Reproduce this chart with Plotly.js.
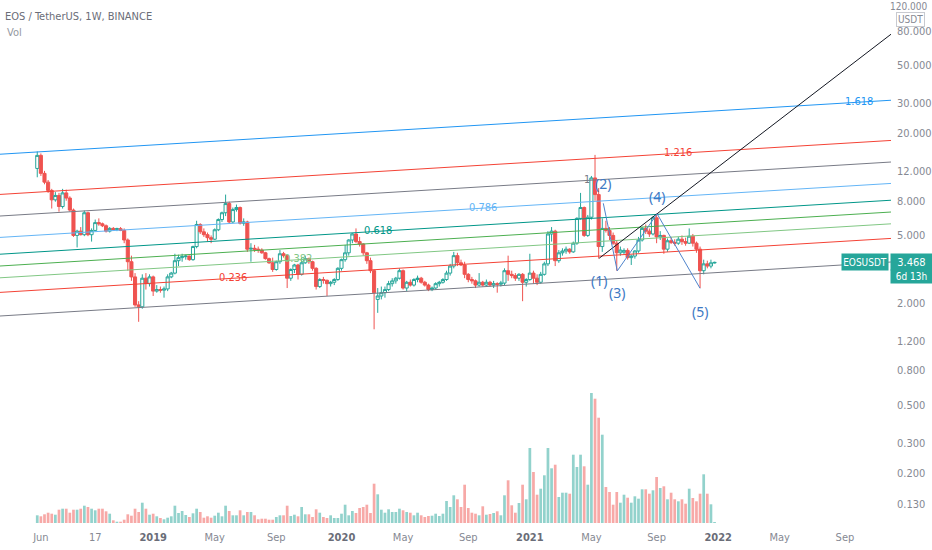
<!DOCTYPE html>
<html><head><meta charset="utf-8">
<script src="https://cdn.plot.ly/plotly-3.0.1.min.js"></script>
<style>html,body{margin:0;padding:0;background:#fff}#chart{width:932px;height:550px}</style>
</head><body><div id="chart"></div>
<script>
// ---- weekly EOS/USDT candles (first week 2018-05-28) ----
const firstWeek = '2018-05-28';
const open = [12.4,14.8,11.6,10.3,9.2,8.1,8.6,7.4,8.9,8.3,
 7.05,5.0,5.3,5.05,6.8,5.05,5.35,5.95,5.85,5.7,
 5.3,5.5,5.42,5.48,5.35,4.7,3.5,2.85,1.95,1.9,
 2.8,2.6,2.85,2.35,2.4,2.38,2.42,2.85,3.0,3.55,
 3.7,3.75,3.78,3.6,4.3,5.8,5.25,5.05,4.85,4.75,
 5.4,6.2,6.8,7.7,6.0,7.1,7.3,5.9,6.0,4.15,
 4.2,4.15,4.1,3.95,3.65,3.45,3.15,3.5,3.9,3.8,
 2.8,3.15,3.35,2.95,3.45,3.65,3.5,3.2,2.5,2.75,
 2.72,2.6,2.65,2.75,3.2,3.6,3.95,4.7,5.1,4.6,
 4.45,3.95,3.55,3.1,2.1,2.2,2.3,2.4,2.6,2.7,
 2.8,3.1,2.45,2.65,2.55,2.75,2.8,2.65,2.55,2.4,
 2.45,2.6,2.65,2.75,3.0,3.3,3.8,3.45,3.35,2.95,
 2.75,2.7,2.55,2.65,2.55,2.65,2.55,2.6,2.58,2.62,
 3.1,2.95,2.9,2.8,2.95,2.65,2.75,3.0,2.8,2.65,
 2.95,3.4,5.1,5.3,3.55,3.95,4.05,4.15,4.0,4.5,
 6.3,7.3,5.0,6.4,10.9,8.7,4.3,5.5,5.35,5.0,
 4.5,3.95,3.98,4.08,3.7,3.78,4.05,4.7,5.5,5.3,
 5.1,6.35,4.9,5.0,4.15,4.65,4.55,4.5,4.75,4.6,
 4.5,4.95,4.5,4.15,3.1,3.4,3.3,3.44];
const high = [15.6,15.2,12.0,10.6,9.4,9.0,8.9,9.4,9.3,8.5,
 7.2,5.4,5.6,7.0,6.9,5.5,6.2,6.3,5.95,5.8,
 5.6,5.6,5.55,5.6,5.5,4.8,3.8,3.0,2.05,2.95,
 3.0,2.95,2.9,2.55,2.5,2.5,2.95,3.05,3.9,3.85,
 3.9,3.85,3.8,4.35,6.1,5.9,5.5,5.2,5.0,5.5,
 6.3,6.9,8.7,7.9,7.3,7.6,7.4,6.3,6.1,4.5,
 4.4,4.3,4.2,4.0,3.7,3.7,3.55,4.1,4.0,3.85,
 3.2,3.4,3.4,3.7,3.8,3.7,3.55,3.25,2.8,2.85,
 2.75,2.7,2.8,3.25,3.65,4.4,4.75,5.15,5.5,4.9,
 4.5,4.0,3.7,3.15,2.45,2.5,2.5,2.7,2.8,2.85,
 3.2,3.15,2.7,2.75,2.8,2.9,2.85,2.7,2.6,2.5,
 2.65,2.7,2.8,3.1,3.4,4.0,3.95,3.6,3.5,3.0,
 2.85,2.75,3.0,2.7,2.75,2.7,2.7,2.65,2.7,3.2,
 3.8,3.1,3.0,3.0,3.0,2.8,3.9,3.1,2.95,3.05,
 3.5,5.3,5.6,5.4,4.1,4.2,4.3,4.2,4.6,6.4,
 8.9,7.4,6.6,11.2,14.9,9.5,6.3,6.1,5.6,5.2,
 4.7,4.3,4.2,4.2,3.85,4.1,4.9,5.6,5.8,5.5,
 6.5,6.7,5.3,5.05,4.8,4.9,4.75,4.9,5.0,4.85,
 5.5,5.1,4.6,4.3,3.6,3.55,3.6,3.5];
const low = [11.0,11.2,10.0,8.9,7.2,7.9,6.9,7.2,8.0,6.9,
 4.9,4.25,5.0,4.95,4.95,4.6,5.3,5.7,5.6,5.2,
 5.2,5.35,5.3,5.3,4.5,3.1,2.7,1.9,1.55,1.85,
 2.4,2.5,2.2,2.3,2.3,2.15,2.35,2.8,2.95,3.3,
 3.5,3.6,3.55,3.55,4.2,5.1,4.9,4.6,4.5,4.7,
 5.3,6.0,6.5,5.9,5.9,6.9,5.8,5.7,4.0,3.5,
 4.0,3.95,3.9,3.6,3.4,3.05,3.1,3.4,3.7,2.45,
 2.7,3.0,2.75,2.9,3.4,3.4,3.1,2.4,2.45,2.6,
 2.2,2.5,2.55,2.7,3.1,3.5,3.8,4.5,4.5,4.3,
 3.8,3.4,3.0,1.4,1.75,2.1,2.15,2.35,2.5,2.6,
 2.75,2.4,2.35,2.5,2.5,2.65,2.6,2.5,2.35,2.35,
 2.4,2.5,2.6,2.7,2.9,3.2,3.3,3.3,2.8,2.65,
 2.6,2.45,2.5,2.5,2.5,2.5,2.45,2.3,2.5,2.55,
 2.7,2.8,2.7,2.7,2.05,2.5,2.7,2.6,2.55,2.6,
 2.9,3.3,4.6,3.3,3.45,3.8,3.9,3.9,3.95,4.4,
 6.2,4.9,4.9,6.2,8.0,3.65,4.0,5.2,4.7,4.4,
 3.1,3.8,3.85,3.6,3.35,3.65,3.95,4.6,5.1,4.9,
 5.0,4.5,4.7,3.9,4.0,4.45,4.35,4.4,4.4,4.35,
 4.45,4.3,3.95,2.45,2.95,3.2,3.2,3.42];
const close = [14.8,11.6,10.3,9.2,8.1,8.6,7.4,8.9,8.3,7.05,
 5.0,5.3,5.05,6.8,5.05,5.35,5.95,5.85,5.7,5.3,
 5.5,5.42,5.48,5.35,4.7,3.5,2.85,1.95,1.9,2.8,
 2.6,2.85,2.35,2.4,2.38,2.42,2.85,3.0,3.55,3.7,
 3.75,3.78,3.6,4.3,5.8,5.25,5.05,4.85,4.75,5.4,
 6.2,6.8,7.7,6.0,7.1,7.3,5.9,6.0,4.15,4.2,
 4.15,4.1,3.95,3.65,3.45,3.15,3.5,3.9,3.8,2.8,
 3.15,3.35,2.95,3.45,3.65,3.5,3.2,2.5,2.75,2.72,
 2.6,2.65,2.75,3.2,3.6,3.95,4.7,5.1,4.6,4.45,
 3.95,3.55,3.1,2.3,2.2,2.3,2.4,2.6,2.7,2.8,
 3.1,2.45,2.65,2.55,2.75,2.8,2.65,2.55,2.4,2.45,
 2.6,2.65,2.75,3.0,3.3,3.8,3.45,3.35,2.95,2.75,
 2.7,2.55,2.65,2.55,2.65,2.55,2.6,2.58,2.62,3.1,
 2.95,2.9,2.8,2.95,2.65,2.75,3.0,2.8,2.65,2.95,
 3.4,5.1,5.3,3.55,3.95,4.05,4.15,4.0,4.5,6.3,
 7.3,5.0,6.4,10.9,8.7,4.3,5.5,5.35,5.0,4.5,
 3.95,4.1,4.08,3.7,3.78,4.05,4.7,5.5,5.3,5.1,
 6.35,4.9,5.0,4.15,4.65,4.55,4.5,4.75,4.6,4.5,
 4.95,4.5,4.15,3.1,3.4,3.3,3.45,3.468];
// weekly volume (millions, estimated)
const volume = [7.7,6.7,8.7,10.3,9.3,8.3,13.3,14.3,14.3,10.3,
 13.3,13.3,14.3,17.3,16,14.3,12.7,14.3,14.3,11.7,
 9.3,2.7,1.3,1.3,3.3,8.7,7.3,14.3,11,20.3,
 14.3,8.3,9.3,6.7,5,3.7,5.3,6.7,17.3,10,
 12,8,6,9.7,14.3,11,5.3,6.7,5.3,7.3,
 10.3,6.7,17.3,12,7.7,7.7,12.7,7.7,11,11,
 7.7,3.7,4.3,4.3,3.3,3.3,6,7.7,7.7,17.3,
 7,8.3,6.7,16,8.7,8.7,6,13.7,10.3,6,
 5,7.7,5,5,9.3,18.3,7.7,12,10,15,
 16,18.3,10,39.3,28.7,13.3,10.3,13.7,11,11,
 14.3,12.7,11,10.3,7.7,10.3,7.7,6,7,7.3,
 9.3,7,9.3,22,16,27.7,23.7,16,38.3,15,
 10.3,9.3,7.7,16.7,8.3,9,10,11.7,7.7,27.7,
 42.7,17.7,10.3,20,38.3,23.7,75,51,28.3,34.3,
 47.7,75,54.7,58.3,26,30.3,30.3,29.3,68.3,56,
 68.3,56.7,38.3,130,124.3,105.3,88.3,36,31,18.3,
 31,20.3,28.3,25.3,20.3,26.7,24.3,33.7,33.7,29.3,
 32.7,46,35,36.7,23.7,30.3,23.7,21.7,23.7,19.3,
 34.3,25,21.7,29.3,48.7,29.3,18.7,1];

// ---- axis ticks ----
const xTickVals = ['2018-06-04','2018-09-17','2019-01-07','2019-05-06','2019-09-02','2020-01-06','2020-05-04','2020-09-07','2021-01-04','2021-05-03','2021-09-06','2022-01-03','2022-05-02','2022-09-05'];
const xTickText = ['Jun','17','2019','May','Sep','2020','May','Sep','2021','May','Sep','2022','May','Sep'];
const yTickVals = [0.13,0.2,0.3,0.5,0.8,1.2,2,5,8,12,20,30,50,80];
const yTopLabel = 120;

// ---- fib channel drawing ----
const channelDates = ['2018-03-17','2022-12-03'];
const channelBase = [1.677, 3.487];
const channelUnit = 3.879;
const fibLevels = [0,0.236,0.382,0.5,0.618,0.786,1,1.216,1.618];
const fibColors = ['#787b86','#f44336','#81c784','#4caf50','#009688','#64b5f6','#787b86','#f44336','#2196f3'];
const fibLabelText = ['','0.236','0.382','','0.618','0.786','1','1.216','1.618'];
const fibLabelDates = [null,'2019-06-11','2019-10-14',null,'2020-03-16','2020-10-05','2021-04-25','2021-10-18','2022-10-02'];

// ---- trend ray & Elliott waves ----
const rayDates = ['2021-05-18','2022-12-03'];
const rayPrices = [3.67, 76.5];
const zigDates = ['2021-05-26','2021-06-22','2021-09-07','2021-11-29'];
const zigPrices = [7.73, 3.09, 6.7, 2.44];
const waveLabels = ['(1)','(2)','(3)','(4)','(5)'];
const waveDates = ['2021-05-18','2021-05-26','2021-06-22','2021-09-07','2021-11-29'];
const wavePrices = [3.67, 7.73, 3.09, 6.7, 2.44];
const waveShift = [-22, 20, -22, 17, -23];

const F = "'Liberation Sans Narrow','DejaVu Sans Condensed','Liberation Sans',sans-serif";
const DAY = 86400000;
const t0 = Date.parse(firstWeek + 'T00:00:00Z');
const dates = open.map((_, i) => new Date(t0 + i * 7 * DAY).toISOString().slice(0, 10));
const ms = d => Date.parse(d + 'T00:00:00Z');
function channelLog(level, d) {
  const t = (ms(d) - ms(channelDates[0])) / (ms(channelDates[1]) - ms(channelDates[0]));
  const a = Math.log10(channelBase[0]), b = Math.log10(channelBase[1]);
  return a + t * (b - a) + level * Math.log10(channelUnit);
}

const traces = [];
traces.push({
  type: 'candlestick', x: dates, open: open, high: high, low: low, close: close,
  increasing: {line: {color: '#26a69a', width: 1}, fillcolor: '#ffffff'},
  decreasing: {line: {color: '#ef5350', width: 1}, fillcolor: '#ef5350'},
  whiskerwidth: 0, hoverinfo: 'skip'
});
fibLevels.forEach((lv, i) => {
  traces.push({type: 'scatter', mode: 'lines', x: channelDates,
    y: channelDates.map(d => Math.pow(10, channelLog(lv, d))),
    line: {color: fibColors[i], width: 1}, hoverinfo: 'skip'});
});
traces.push({type: 'scatter', mode: 'lines', x: rayDates, y: rayPrices,
  line: {color: '#131722', width: 1}, hoverinfo: 'skip'});
traces.push({type: 'scatter', mode: 'lines', x: zigDates, y: zigPrices,
  line: {color: '#4f84cc', width: 1}, hoverinfo: 'skip'});
traces.push({type: 'bar', x: dates, y: volume, yaxis: 'y2',
  marker: {color: close.map((c, i) => c >= open[i] ? 'rgba(38,166,154,0.5)' : 'rgba(239,83,80,0.5)')},
  hoverinfo: 'skip'});

const tickFont = {family: F, size: 11, color: '#868993'};
const ann = [];
fibLevels.forEach((lv, i) => {
  if (!fibLabelDates[i]) return;
  ann.push({x: fibLabelDates[i], y: channelLog(lv, fibLabelDates[i]), xref: 'x', yref: 'y',
    text: fibLabelText[i], showarrow: false, yshift: 1,
    font: {family: F, size: 11, color: fibColors[i]}});
});
waveLabels.forEach((t, i) => {
  ann.push({x: waveDates[i], y: Math.log10(wavePrices[i]), xref: 'x', yref: 'y',
    text: t, showarrow: false, yshift: waveShift[i],
    font: {family: "'Noto Sans',sans-serif", size: 14, color: '#3d79c4'}});
});
const last = close[close.length - 1];
ann.push({x: 889/891, xref: 'paper', xanchor: 'right', y: Math.log10(last), yref: 'y', yanchor: 'middle',
  text: 'EOSUSDT', showarrow: false, bgcolor: '#26a69a', width: 44, height: 14, borderpad: 1,
  font: {family: F, size: 10, color: '#ffffff'}});
ann.push({x: 1 + 20.5/891, xref: 'paper', xanchor: 'center', y: Math.log10(last), yref: 'y', yanchor: 'middle',
  text: last.toFixed(3), showarrow: false, bgcolor: '#26a69a', width: 39, height: 14, borderpad: 1,
  font: {family: F, size: 11, color: '#ffffff'}});
ann.push({x: 1 + 20.5/891, xref: 'paper', xanchor: 'center', y: Math.log10(last), yref: 'y', yanchor: 'middle',
  yshift: -14, text: '6d 13h', showarrow: false, bgcolor: '#26a69a', width: 39, height: 11, borderpad: 1,
  font: {family: F, size: 10, color: '#ffffff'}});
ann.push({x: 929/891, xref: 'paper', xanchor: 'right', y: 1 - 7/523, yref: 'paper', yanchor: 'middle',
  text: yTopLabel.toFixed(3), showarrow: false, font: {family: F, size: 10, color: '#868993'}});
ann.push({x: 911/891, xref: 'paper', xanchor: 'center', y: 1 - 19/523, yref: 'paper', yanchor: 'middle',
  text: 'USDT', showarrow: false, bgcolor: '#ffffff', bordercolor: '#c8cad0', borderwidth: 1, borderpad: 1,
  font: {family: F, size: 10, color: '#868993'}});
ann.push({x: 5/891, xref: 'paper', xanchor: 'left', y: 1 - 32/523, yref: 'paper', yanchor: 'middle',
  text: 'Vol', showarrow: false, font: {family: F, size: 11, color: '#9598a1'}});

const layout = {
  width: 932, height: 550,
  margin: {l: 0, r: 41, t: 0, b: 27, pad: 0},
  paper_bgcolor: '#ffffff', plot_bgcolor: '#ffffff',
  showlegend: false, bargap: 0.25, boxgap: 0.15, boxgroupgap: 0, hovermode: false, dragmode: false,
  title: {text: 'EOS / TetherUS, 1W, BINANCE', x: 5/932, xanchor: 'left', y: 1 - 16/550, yanchor: 'middle',
    font: {family: F, size: 11, color: '#6a6d78'}},
  xaxis: {type: 'date', range: [channelDates[0], channelDates[1]], tickmode: 'array',
    tickvals: xTickVals,
    ticktext: xTickText.map(t => /^20/.test(t) ? '<span style="font-weight:bold;color:#6a6d78">' + t + '</span>' : t),
    showgrid: false, zeroline: false, showline: false, ticks: '', tickfont: tickFont,
    ticklabelstandoff: 6, rangeslider: {visible: false}, fixedrange: true},
  yaxis: {type: 'log', side: 'right', range: [Math.log10(0.1013), Math.log10(121.7)], tickmode: 'array',
    tickvals: yTickVals, ticktext: yTickVals.map(v => v.toFixed(3)),
    showgrid: false, zeroline: false, showline: false, ticks: '', tickfont: tickFont,
    ticklabelstandoff: 5, fixedrange: true},
  yaxis2: {overlaying: 'y', range: [0, 523], visible: false, fixedrange: true},
  annotations: ann
};
Plotly.newPlot('chart', traces, layout, {staticPlot: true, displayModeBar: false});
</script></body></html>
